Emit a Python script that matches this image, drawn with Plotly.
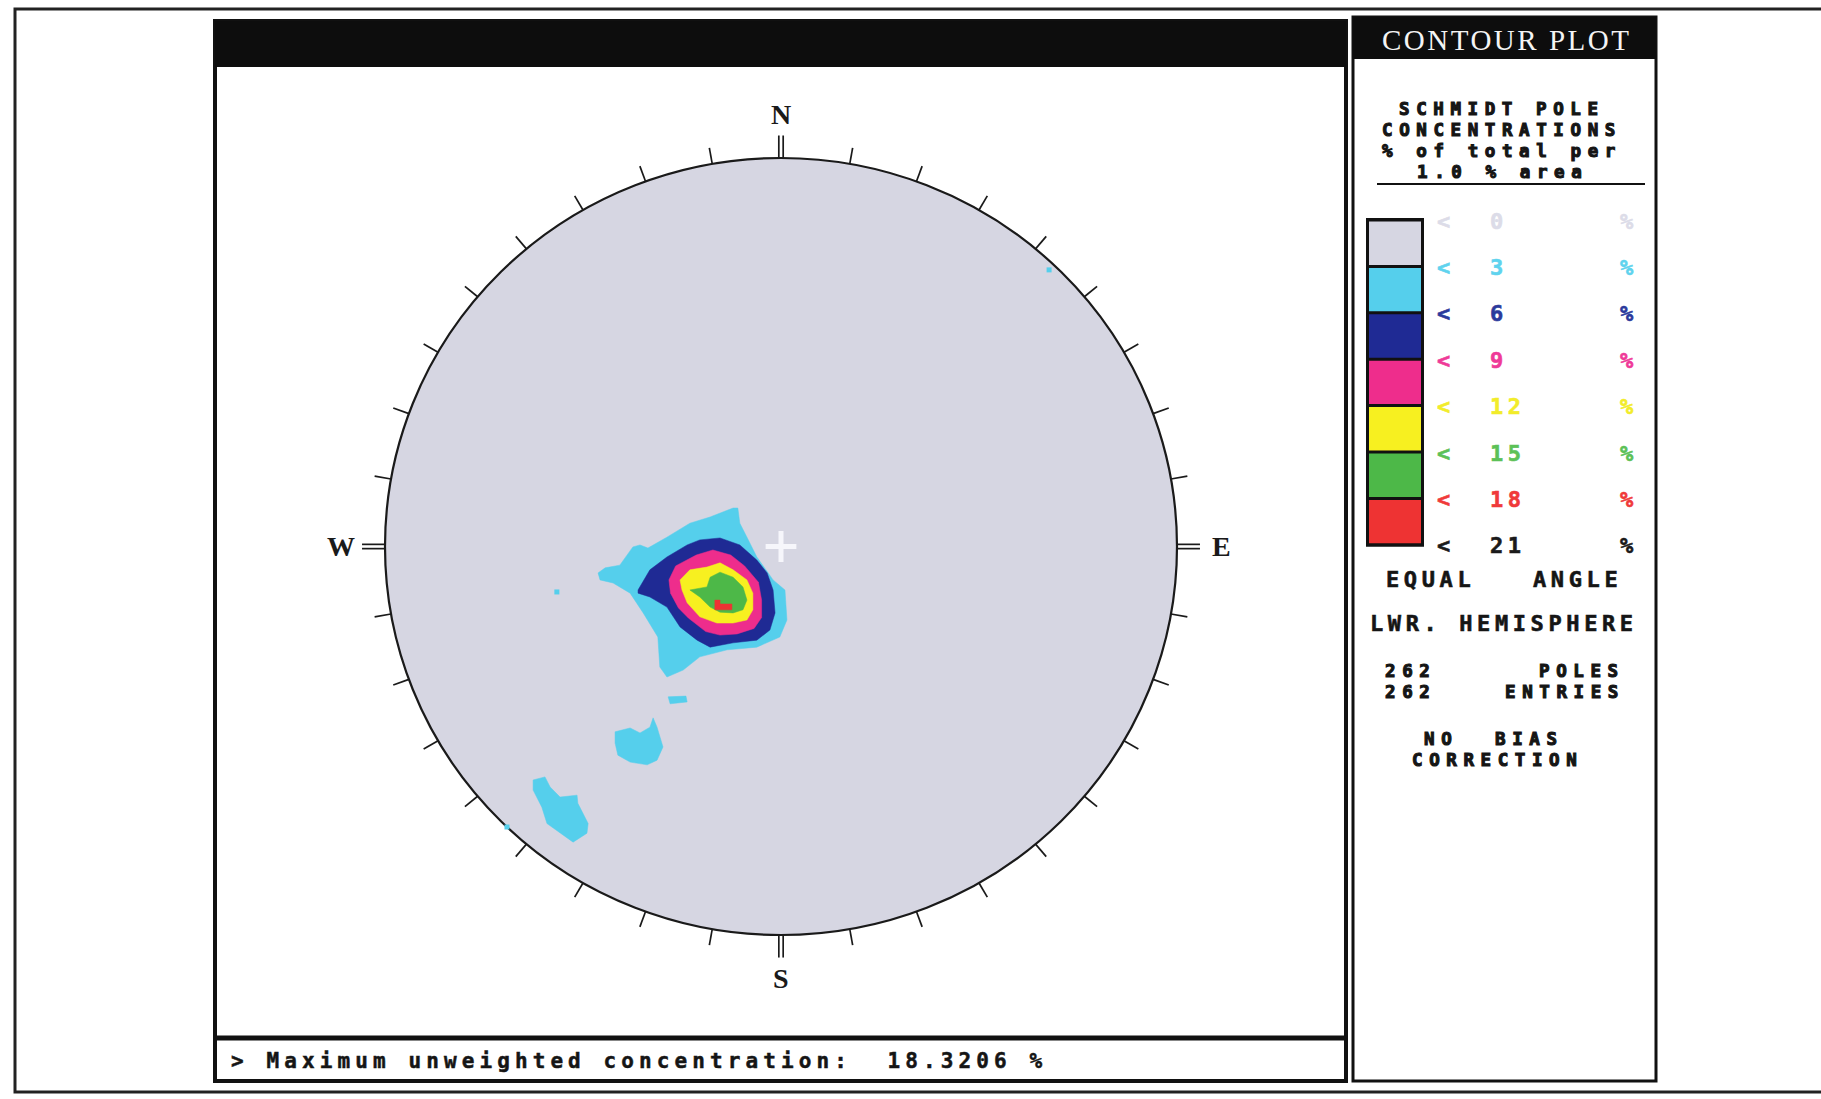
import numpy as np
import plotly.graph_objects as go

W, H = 1821, 1099

# ---- contour key: pole concentration (% of total per 1 % area) ----
levels = [0, 3, 6, 9, 12, 15, 18, 21]
fill_colors = ["#d6d6e2", "#55cfec", "#1f2a94", "#ee2d8c", "#f7f020", "#4db848", "#ee3333"]
label_colors = ["#dcdce8", "#5fd3ee", "#2b3a9c", "#ef3a98", "#f2ec2a", "#5cc157", "#f03a3a", "#1a1a1a"]

n_poles = 262
n_entries = 262
max_concentration = 18.3206

# ---- contour regions on the net (unit circle, x = east, y = north) ----
cyan_main_x = [-0.462, -0.444, -0.407, -0.374, -0.356, -0.336, -0.288, -0.230, -0.179, -0.121,
               -0.109, -0.104, -0.086, -0.061, -0.020, 0.010, 0.015, -0.003, -0.061, -0.136,
               -0.205, -0.247, -0.288, -0.306, -0.311, -0.348, -0.381, -0.424, -0.457]
cyan_main_y = [-0.068, -0.055, -0.048, -0.001, 0.004, -0.004, 0.024, 0.060, 0.076, 0.099,
               0.099, 0.060, 0.024, -0.027, -0.086, -0.112, -0.189, -0.233, -0.259, -0.266,
               -0.284, -0.318, -0.336, -0.310, -0.233, -0.171, -0.120, -0.094, -0.086]

cyan_patch_a_x = [-0.419, -0.381, -0.356, -0.331, -0.323, -0.313, -0.298, -0.313, -0.338, -0.381, -0.412, -0.419]
cyan_patch_a_y = [-0.477, -0.467, -0.480, -0.465, -0.441, -0.465, -0.516, -0.550, -0.562, -0.555, -0.537, -0.506]

cyan_patch_b_x = [-0.626, -0.596, -0.583, -0.558, -0.515, -0.513, -0.487, -0.490, -0.525, -0.558, -0.591, -0.604, -0.626]
cyan_patch_b_y = [-0.601, -0.593, -0.619, -0.645, -0.640, -0.661, -0.713, -0.738, -0.761, -0.738, -0.713, -0.671, -0.627]

cyan_strip_x = [-0.285, -0.240, -0.237, -0.280]
cyan_strip_y = [-0.387, -0.385, -0.400, -0.405]

cyan_cells_x = [-0.566, -0.692, 0.677]
cyan_cells_y = [-0.117, -0.722, 0.712]

blue_x = [-0.361, -0.331, -0.288, -0.237, -0.205, -0.154, -0.104, -0.061, -0.035, -0.020,
          -0.015, -0.028, -0.061, -0.121, -0.179, -0.212, -0.255, -0.288, -0.331, -0.361]
blue_y = [-0.112, -0.060, -0.027, 0.004, 0.017, 0.022, 0.004, -0.035, -0.068, -0.112,
          -0.171, -0.215, -0.241, -0.248, -0.259, -0.241, -0.207, -0.156, -0.130, -0.120]

magenta_x = [-0.283, -0.266, -0.214, -0.172, -0.127, -0.092, -0.057, -0.049,
             -0.049, -0.068, -0.111, -0.154, -0.190, -0.234, -0.259, -0.279]
magenta_y = [-0.086, -0.050, -0.022, -0.009, -0.022, -0.050, -0.092, -0.138,
             -0.183, -0.211, -0.225, -0.228, -0.219, -0.184, -0.158, -0.120]

yellow_x = [-0.255, -0.230, -0.187, -0.154, -0.121, -0.086, -0.071, -0.071, -0.086, -0.121, -0.162, -0.205, -0.237, -0.250]
yellow_y = [-0.086, -0.060, -0.053, -0.042, -0.060, -0.086, -0.120, -0.163, -0.189, -0.197, -0.197, -0.181, -0.145, -0.112]

green_x = [-0.230, -0.187, -0.179, -0.154, -0.121, -0.096, -0.086, -0.096, -0.121, -0.154, -0.179, -0.205]
green_y = [-0.112, -0.104, -0.079, -0.066, -0.079, -0.104, -0.138, -0.163, -0.171, -0.169, -0.156, -0.130]

red_x = [-0.167, -0.154, -0.154, -0.124, -0.124, -0.167]
red_y = [-0.138, -0.138, -0.148, -0.148, -0.163, -0.163]

cardinals = ["N", "E", "S", "W"]
cardinal_azimuths = [0, 90, 180, 270]
tick_azimuths = list(range(0, 360, 10))

# ---- page geometry helpers (pixel -> paper) ----
def px(x):
    return x / W


def py(y):
    return 1 - y / H


# net centre / radii in pixels, axis range padded so the compass fits
CX, CY, RX, RY = 781, 546.5, 396, 388.5
PAD = 1.25
x_dom = [px(CX - PAD * RX), px(CX + PAD * RX)]
y_dom = [py(CY + PAD * RY), py(CY - PAD * RY)]


def joined(*rings):
    xs, ys = [], []
    for rx, ry in rings:
        xs += list(rx) + [rx[0], None]
        ys += list(ry) + [ry[0], None]
    return xs, ys


fig = go.Figure()

regions = [
    joined((cyan_main_x, cyan_main_y), (cyan_patch_a_x, cyan_patch_a_y),
           (cyan_patch_b_x, cyan_patch_b_y), (cyan_strip_x, cyan_strip_y)),
    joined((blue_x, blue_y)),
    joined((magenta_x, magenta_y)),
    joined((yellow_x, yellow_y)),
    joined((green_x, green_y)),
    joined((red_x, red_y)),
]
for i, (rx, ry) in enumerate(regions):
    fig.add_trace(go.Scatter(
        x=rx, y=ry, mode="lines", fill="toself",
        fillcolor=fill_colors[i + 1], line=dict(width=0.5, color=fill_colors[i + 1]),
        hoverinfo="skip", showlegend=False))

# isolated single-cell 3 % spots
fig.add_trace(go.Scatter(
    x=cyan_cells_x, y=cyan_cells_y, mode="markers",
    marker=dict(symbol="square", size=5, color=fill_colors[1]),
    hoverinfo="skip", showlegend=False))

# centre mark
fig.add_trace(go.Scatter(
    x=[0], y=[0], mode="markers",
    marker=dict(symbol="cross-thin", size=22, line=dict(width=5, color="#f6f6fb")),
    hoverinfo="skip", showlegend=False))

# 10-degree ticks around the primitive
tx, ty = [], []
for az in tick_azimuths:
    if az in cardinal_azimuths:
        continue
    a = np.radians(az)
    tx += [np.sin(a), 1.042 * np.sin(a), None]
    ty += [np.cos(a), 1.042 * np.cos(a), None]
# double ticks at the cardinal points
for az in cardinal_azimuths:
    a = np.radians(az)
    for off in (-0.0055, 0.0055):
        ox, oy = off * np.cos(a), -off * np.sin(a)
        tx += [np.sin(a) + ox, 1.058 * np.sin(a) + ox, None]
        ty += [np.cos(a) + oy, 1.058 * np.cos(a) + oy, None]
fig.add_trace(go.Scatter(x=tx, y=ty, mode="lines", line=dict(color="#1a1a1a", width=1.7),
                         hoverinfo="skip", showlegend=False))

shapes = []
# primitive circle
shapes.append(dict(type="circle", xref="x", yref="y", x0=-1, x1=1, y0=-1, y1=1,
                   fillcolor=fill_colors[0], line=dict(color="#1a1a1a", width=2.2), layer="below"))


def rect(x0, y0, x1, y1, lw=0, lc="#111", fill=None):
    d = dict(type="rect", xref="paper", yref="paper", x0=px(x0), x1=px(x1), y0=py(y1), y1=py(y0),
             line=dict(width=lw, color=lc), layer="above")
    if fill:
        d["fillcolor"] = fill
    return d


def hline(x0, x1, y, lw, color="#111"):
    return dict(type="line", xref="paper", yref="paper", x0=px(x0), x1=px(x1), y0=py(y), y1=py(y),
                line=dict(width=lw, color=color), layer="above")


# outer frame
shapes.append(rect(15, 9, 1840, 1092, lw=3, lc="#222"))
# main plot panel with title bar and status line
shapes.append(rect(215, 21, 1346, 1081, lw=4, lc="#111"))
shapes.append(rect(215, 21, 1346, 67, fill="#0d0d0d"))
shapes.append(hline(215, 1346, 1038, 5))
# side panel with its title bar
shapes.append(rect(1353, 17, 1656, 1081, lw=3, lc="#111"))
shapes.append(rect(1353, 17, 1656, 59, fill="#0d0d0d"))
shapes.append(hline(1377, 1645, 184, 2))

# contour key boxes
box_top, box_h = 220, 46.4
n_box = len(fill_colors)
shapes.append(rect(1366, box_top - 2, 1424, box_top + n_box * box_h + 2, fill="#111"))
for i, c in enumerate(fill_colors):
    shapes.append(rect(1369, box_top + i * box_h + 1.5, 1421, box_top + (i + 1) * box_h - 1.5, fill=c))

annotations = []
MONO = "DejaVu Sans Mono"


def txt(s, x, y, size=22, color="#151515", anchor="center", spacing=4.6, family=MONO,
        weight="bold", heavy=0.0):
    style = f"letter-spacing:{spacing}px"
    if heavy:
        # thicken the glyph strokes for the blocky screen-font look
        style += f";stroke:{color};stroke-width:{heavy}px"
    annotations.append(dict(
        text=f'<span style="{style}">{s}</span>',
        x=px(x), y=py(y), xref="paper", yref="paper", showarrow=False,
        xanchor=anchor, yanchor="middle", borderpad=0, borderwidth=0,
        font=dict(family=family, size=size, color=color, weight=weight)))


# side panel header and description (tightly stacked lines)
SMALL, SMALL_LS, HEAVY = 17.5, 6.6, 1.1
txt("CONTOUR PLOT", 1506, 40, size=29, color="#f4f4f4", spacing=2.5,
    family="Liberation Serif", weight="normal")
txt("SCHMIDT POLE", 1502, 109, size=SMALL, spacing=SMALL_LS, heavy=HEAVY)
txt("CONCENTRATIONS", 1502, 130, size=SMALL, spacing=SMALL_LS, heavy=HEAVY)
txt("% of total per", 1502, 151, size=SMALL, spacing=SMALL_LS, heavy=HEAVY)
txt("1.0 % area", 1502, 172, size=SMALL, spacing=SMALL_LS, heavy=HEAVY)

# key labels at the class boundaries
for i, lv in enumerate(levels):
    yy = box_top + i * box_h + 1
    txt("&lt;", 1443, yy, color=label_colors[i], spacing=0, heavy=0.6)
    txt(str(lv), 1490, yy, color=label_colors[i], anchor="left", heavy=0.6)
    txt("%", 1627, yy, color=label_colors[i], spacing=0, heavy=0.6)

txt("EQUAL", 1430, 579, heavy=0.6)
txt("ANGLE", 1577, 579, heavy=0.6)
txt("LWR. HEMISPHERE", 1504, 623, heavy=0.6)
txt(str(n_poles), 1385, 671, size=SMALL, spacing=SMALL_LS, anchor="left", heavy=HEAVY)
txt("POLES", 1625, 671, size=SMALL, spacing=SMALL_LS, anchor="right", heavy=HEAVY)
txt(str(n_entries), 1385, 692, size=SMALL, spacing=SMALL_LS, anchor="left", heavy=HEAVY)
txt("ENTRIES", 1625, 692, size=SMALL, spacing=SMALL_LS, anchor="right", heavy=HEAVY)
txt("NO", 1441, 739, size=SMALL, spacing=SMALL_LS, heavy=HEAVY)
txt("BIAS", 1529, 739, size=SMALL, spacing=SMALL_LS, heavy=HEAVY)
txt("CORRECTION", 1497, 760, size=SMALL, spacing=SMALL_LS, heavy=HEAVY)

# status line
txt(f"&gt; Maximum unweighted concentration:  {max_concentration:.4f} %", 231, 1061,
    size=21, anchor="left", spacing=5.1, heavy=0.5)

# compass letters
for lab, az in zip(cardinals, cardinal_azimuths):
    a = np.radians(az)
    annotations.append(dict(
        text=lab, x=1.112 * np.sin(a), y=1.112 * np.cos(a), xref="x", yref="y",
        showarrow=False, xanchor="center", yanchor="middle",
        font=dict(family="Liberation Serif", size=28, color="#1a1a1a", weight="bold")))

fig.update_layout(
    width=W, height=H, margin=dict(l=0, r=0, t=0, b=0),
    paper_bgcolor="white", plot_bgcolor="rgba(0,0,0,0)",
    xaxis=dict(range=[-PAD, PAD], domain=x_dom, visible=False, fixedrange=True),
    yaxis=dict(range=[-PAD, PAD], domain=y_dom, visible=False, fixedrange=True),
    shapes=shapes, annotations=annotations, showlegend=False,
)

fig.write_html("out.html")
